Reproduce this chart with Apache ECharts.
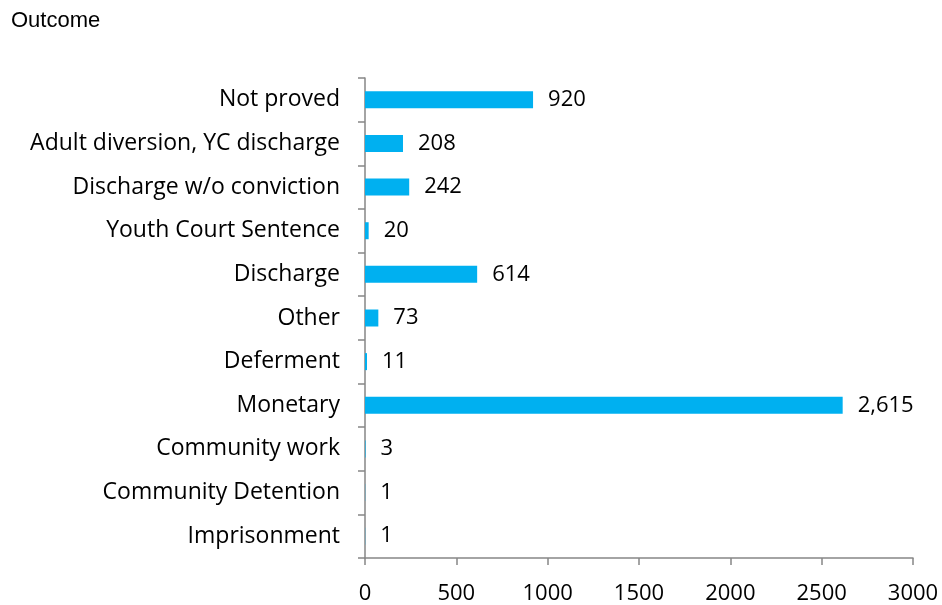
<!DOCTYPE html>
<html>
<head>
	<meta charset="utf-8">
	<title>Outcome</title>
	<style type="text/css">
		body{
			margin: 0px;
		}
		#chart{
			width: 942px;
			height: 605px;
		}
	</style>
	<script type="text/javascript" src="https://cdn.jsdelivr.net/npm/echarts@6/dist/echarts.min.js"></script>
</head>
<body>
	<div id="chart"></div>
	<script type="text/javascript">
		// top to bottom as in the picture
		var outcomes = ['Not proved', 'Adult diversion, YC discharge', 'Discharge w/o conviction',
			'Youth Court Sentence', 'Discharge', 'Other', 'Deferment', 'Monetary',
			'Community work', 'Community Detention', 'Imprisonment'];
		var counts = [920, 208, 242, 20, 614, 73, 11, 2615, 3, 1, 1];
		var xTicks = [0, 500, 1000, 1500, 2000, 2500, 3000];

		var axisGray = '#868686';
		var font = 'Open Sans';

		var chart = echarts.init(document.getElementById('chart'));
		chart.setOption({
			backgroundColor: '#fff',
			animation: false,
			title: {
				text: 'Outcome',
				left: 6,
				top: 5,
				textStyle: {
					fontFamily: 'Liberation Sans',
					fontWeight: 'normal',
					fontSize: 22,
					color: '#000'
				}
			},
			grid: {
				left: 365,
				right: 29,
				top: 78,
				bottom: 47,
				containLabel: false
			},
			xAxis: {
				type: 'value',
				min: xTicks[0],
				max: xTicks[xTicks.length - 1],
				interval: 500,
				axisLine: {
					show: true,
					lineStyle: {color: axisGray, width: 1.5}
				},
				axisTick: {
					show: true,
					length: 7,
					lineStyle: {color: axisGray, width: 1.5}
				},
				axisLabel: {
					margin: 25,
					fontFamily: font,
					fontSize: 22,
					color: '#000',
					formatter: function(v){
						return String(v);
					}
				},
				splitLine: {show: false}
			},
			yAxis: {
				type: 'category',
				inverse: true,
				data: outcomes,
				axisLine: {
					show: true,
					lineStyle: {color: axisGray, width: 1.5}
				},
				axisTick: {
					show: true,
					length: 7,
					lineStyle: {color: axisGray, width: 1.5}
				},
				axisLabel: {
					margin: 25,
					fontFamily: font,
					fontSize: 23,
					color: '#000',
					padding: [4, 0, 0, 0]
				}
			},
			series: [{
				type: 'bar',
				data: counts,
				barWidth: 17,
				itemStyle: {color: '#00B0F0'},
				label: {
					show: true,
					position: 'right',
					distance: 15,
					fontFamily: font,
					fontSize: 22,
					color: '#000',
					padding: [4, 0, 0, 0],
					formatter: function(p){
						return p.value.toLocaleString('en-US');
					}
				}
			}]
		});
	</script>
</body>
</html>
